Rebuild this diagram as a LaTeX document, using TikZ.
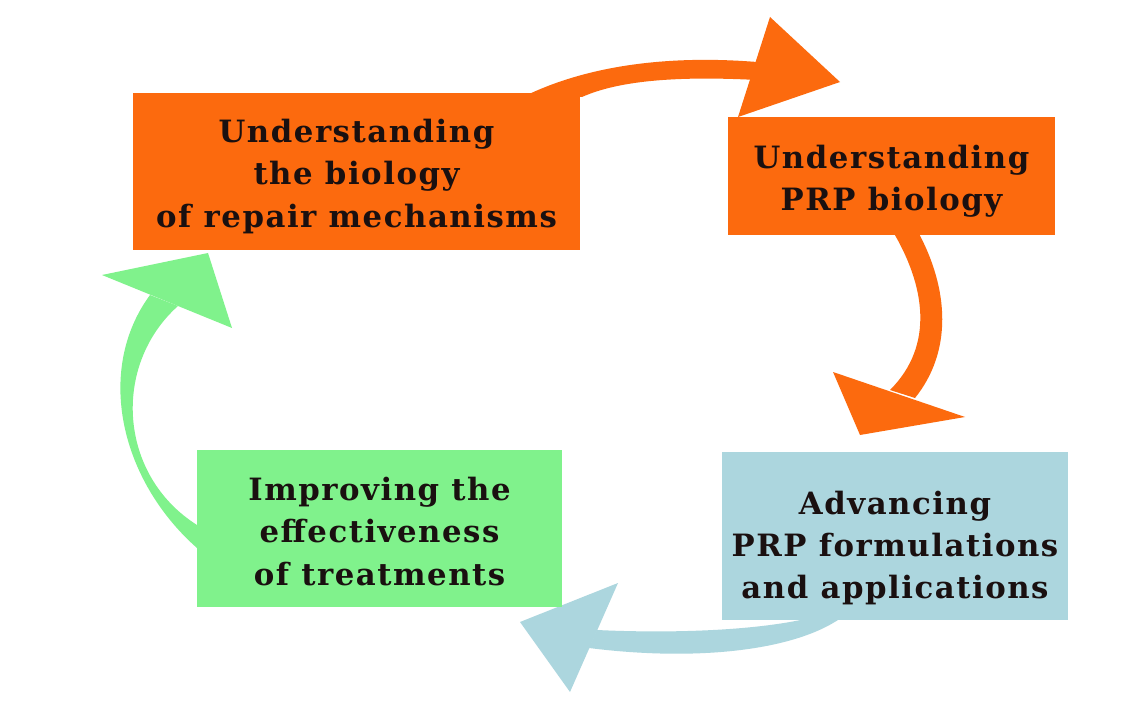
\documentclass[tikz,border=0pt]{standalone}
\usepackage{fontspec}
\setmainfont{DejaVu Serif}[LetterSpace=5]
\pgfdeclarelayer{paper}
\pgfdeclarelayer{background}
\pgfsetlayers{paper,background,main}
\definecolor{orangeC}{RGB}{252,106,14}
\definecolor{greenC}{RGB}{128,242,140}
\definecolor{blueC}{RGB}{172,214,222}
\definecolor{textC}{RGB}{26,16,16}
\tikzset{
  boxfill/.style={rectangle, inner sep=0pt},
  boxtext/.style={inner sep=0pt, align=center, text=textC,
    font=\fontsize{17.5}{24}\selectfont\bfseries},
}
\begin{document}
\begin{tikzpicture}[x=0.2mm,y=-0.2mm]
\useasboundingbox (0,0) rectangle (1140,707);
\begin{pgfonlayer}{paper}
\fill[white] (0,0) rectangle (1140,707);
\end{pgfonlayer}
% boxes
\node[boxfill, fill=orangeC, minimum width=89.4mm, minimum height=31.4mm] (b1) at (356.5,171.5) {};
\node[boxfill, fill=orangeC, minimum width=65.4mm, minimum height=23.6mm] (b2) at (891.5,176) {};
\node[boxfill, fill=blueC, minimum width=69.2mm, minimum height=33.6mm] (b3) at (895,536) {};
\node[boxfill, fill=greenC, minimum width=73mm, minimum height=31.4mm] (b4) at (379.5,528.5) {};
\node[boxtext] (t1) at ([yshift=-1mm]b1.center) {Understanding\\the biology\\of repair mechanisms};
\node[boxtext] (t2) at ([yshift=-1mm]b2.center) {Understanding\\PRP biology};
\node[boxtext] (t3) at ([yshift=-2.4mm]b3.center) {Advancing\\PRP formulations\\and applications};
\node[boxtext] (t4) at ([yshift=-0.6mm]b4.center) {Improving the\\effectiveness\\of treatments};
% arrow coordinates
\coordinate (a1u) at (527,95);
\coordinate (a1l) at (582,97);
\coordinate (h1a) at (770,17);
\coordinate (h1t) at (840,82);
\coordinate (h1b) at (738,117);
\coordinate (a2o) at (917,230);
\coordinate (a2i) at (892,230);
\coordinate (h2a) at (833,372);
\coordinate (h2t) at (860,435);
\coordinate (h2b) at (965,417);
\coordinate (a3u) at (830,612);
\coordinate (a3l) at (845,615);
\coordinate (h3a) at (618,583);
\coordinate (h3t) at (520,622);
\coordinate (h3b) at (570,692);
\coordinate (a4o) at (197,548);
\coordinate (a4i) at (197,525);
\coordinate (h4a) at (102,275);
\coordinate (h4t) at (208,253);
\coordinate (h4b) at (232,328);
\begin{pgfonlayer}{background}
  % b1 -> b2
  \fill[orangeC] (a1u) .. controls (590,65) and (670,55) .. (757,62)
     -- (757,80) .. controls (680,76) and (620,80) .. (a1l) -- cycle;
  \fill[orangeC] (h1a) -- (h1t) -- (h1b) -- cycle;
  % b2 -> b3
  \fill[orangeC] (a2o) .. controls (950,290) and (952,352) .. (915,398)
     -- (890,390) .. controls (935,345) and (925,285) .. (a2i) -- cycle;
  \fill[orangeC] (h2a) -- (h2t) -- (h2b) -- cycle;
  % b3 -> b4
  \fill[blueC] (a3u) .. controls (780,630) and (680,634) .. (597,630)
     -- (589,648) .. controls (700,662) and (800,650) .. (a3l) -- cycle;
  \fill[blueC] (h3a) -- (h3t) -- (h3b) -- cycle;
  % b4 -> b1
  \fill[greenC] (a4o) .. controls (120,480) and (95,370) .. (150,295)
     -- (178,306) .. controls (112,365) and (118,475) .. (a4i) -- cycle;
  \fill[greenC] (h4a) -- (h4t) -- (h4b) -- cycle;
\end{pgfonlayer}
\end{tikzpicture}
\end{document}
